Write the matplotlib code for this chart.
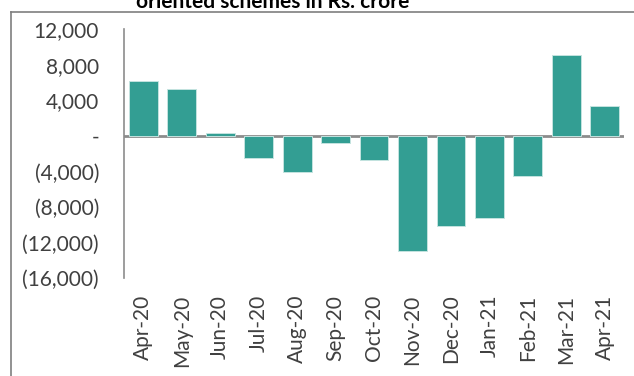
import matplotlib.pyplot as plt
from matplotlib.lines import Line2D
import numpy as np

months = ['Apr-20', 'May-20', 'Jun-20', 'Jul-20', 'Aug-20', 'Sep-20', 'Oct-20',
          'Nov-20', 'Dec-20', 'Jan-21', 'Feb-21', 'Mar-21', 'Apr-21']
net_flows = [6200, 5250, 300, -2500, -4050, -790, -2770,
             -12930, -10150, -9250, -4500, 9110, 3410]
y_ticks = [12000, 8000, 4000, 0, -4000, -8000, -12000, -16000]
title_text = 'oriented schemes in Rs. crore'

plt.rcParams['font.family'] = ['Lato', 'DejaVu Sans']


def fmt(v):
    # accounting style: parentheses for negatives, dash for zero
    if v == 0:
        return '-'
    if v < 0:
        return f'({abs(v):,.0f})'
    return f'{v:,.0f}'


fig = plt.figure(figsize=(6.34, 3.76), dpi=100)
ax = fig.add_axes([124 / 634, 1 - 278 / 376, 500 / 634, (278 - 29.3) / 376])

x = np.arange(len(months))
ax.bar(x, net_flows, width=0.75, color='#339e93', edgecolor='#c4e3df', linewidth=0.7, zorder=2)

ax.set_xlim(-0.5, len(months) - 0.5)
ax.set_ylim(-16000, 12000)
ax.set_yticks(y_ticks)
ax.set_yticklabels([fmt(v) for v in y_ticks], fontsize=15, color='#404040')
ax.set_xticks(x)
ax.set_xticklabels(months, rotation=90, fontsize=15, color='#404040')
ax.tick_params(axis='both', length=0)
ax.tick_params(axis='x', pad=12)
ax.tick_params(axis='y', pad=18)

for s in ['top', 'right', 'bottom']:
    ax.spines[s].set_visible(False)
ax.spines['left'].set_color('#8c8c8c')
ax.spines['left'].set_linewidth(1.2)
ax.axhline(0, color='#8c8c8c', linewidth=2, zorder=1)

# outer frame of the chart (only left and top edges visible)
fx = 10.5 / 634
fy = 1 - 11.5 / 376
fig.add_artist(Line2D([fx, fx], [0, fy], color='#7f7f7f', linewidth=1.2))
fig.add_artist(Line2D([fx, 1], [fy, fy], color='#7f7f7f', linewidth=1.2))

# title: its upper part lies above the picture, as in the source chart
fig.text(273 / 634, 1 - 8 / 376, title_text, ha='center', va='baseline',
         fontsize=15, fontweight='bold', color='black')

fig.savefig('out.png', dpi=100)
